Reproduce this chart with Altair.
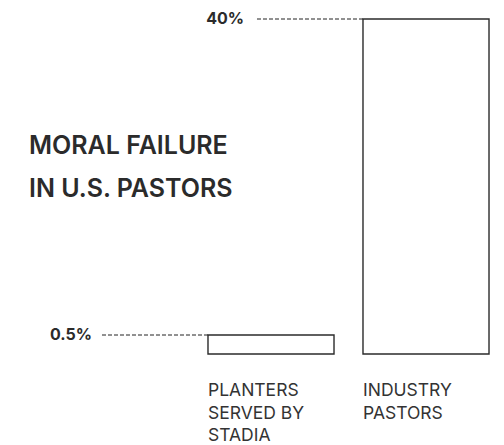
import altair as alt
import pandas as pd

categories = ["Planters served by Stadia", "Industry pastors"]
category_labels = ["PLANTERS\nSERVED BY\nSTADIA", "INDUSTRY\nPASTORS"]
values = [0.5, 40]
value_labels = ["0.5%", "40%"]
title_text = ["MORAL FAILURE\nIN U.S. PASTORS"]

df = pd.DataFrame({"cat": categories, "label": category_labels,
                   "value": values, "vlabel": value_labels})
tdf = pd.DataFrame({"t": title_text})

FONT = "Inter"
INK = "#2b2b2b"

xs = alt.Scale(domain=categories, range=[185.5, 495.5],
               paddingInner=0.187, paddingOuter=0.0935)
ys = alt.Scale(type="pow", exponent=0.655, domain=[0, 40], range=[346, 11])

base = alt.Chart(df)

bars = base.mark_bar(fill="white", stroke=INK, strokeWidth=1.4).encode(
    x=alt.X("cat:N", scale=xs, axis=None),
    y=alt.Y("value:Q", scale=ys, axis=None),
)

layers = [bars]
# (value, label right end, dash start)
for v, lx, dx in [(40, 236, 247), (0.5, 84, 92)]:
    sub = base.transform_filter(alt.datum.value == v)
    layers.append(sub.mark_rule(strokeDash=[4, 2], color="#222222", strokeWidth=1).encode(
        x=alt.X("cat:N", scale=xs, bandPosition=0, axis=None),
        x2=alt.value(dx),
        y=alt.Y("value:Q", scale=ys, axis=None),
    ))
    layers.append(sub.mark_text(align="right", baseline="middle", font=FONT,
                                fontSize=16, fontWeight="bold", color=INK).encode(
        x=alt.value(lx),
        y=alt.Y("value:Q", scale=ys, axis=None),
        text="vlabel:N",
    ))

cat_text = base.mark_text(align="left", baseline="top", font=FONT, fontSize=17.5,
                          color="#333333", lineBreak="\n", lineHeight=22.5).encode(
    x=alt.X("cat:N", scale=xs, bandPosition=0, axis=None),
    y=alt.value(374),
    text="label:N",
)
layers.append(cat_text)

title = alt.Chart(tdf).mark_text(align="left", baseline="top", font=FONT, fontSize=25,
                                 fontWeight=600, color=INK, lineBreak="\n",
                                 lineHeight=43).encode(
    x=alt.value(21),
    y=alt.value(126),
    text="t:N",
)
layers.append(title)

chart = alt.layer(*layers).properties(
    width=488, height=437, autosize=alt.AutoSizeParams(type="none"),
    padding=0,
).configure_view(stroke=None)

chart.save("out.html", embed_options={"renderer": "svg", "actions": False})
